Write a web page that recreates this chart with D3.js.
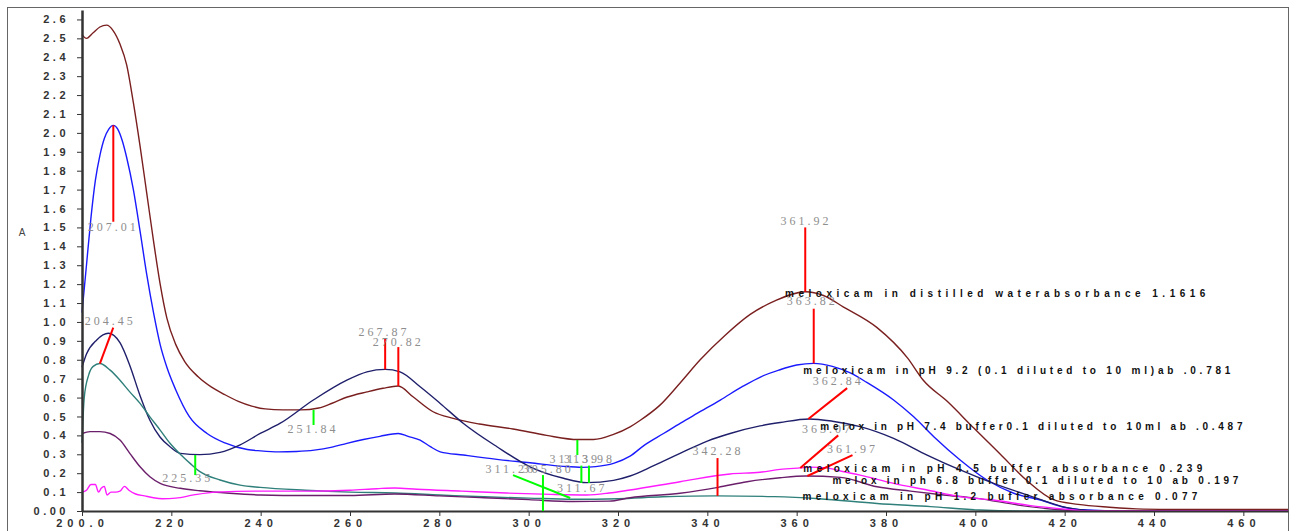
<!DOCTYPE html>
<html>
<head>
<meta charset="utf-8">
<script src="https://cdn.jsdelivr.net/npm/d3@7"></script>
<style>
  body { margin: 0; background: #fff; }
  svg { display: block; }
  .tick text { font-family: "Liberation Sans", Arial, sans-serif; font-size: 11px; font-weight: bold; fill: #333; }
  .y-ax .tick text { letter-spacing: 3.5px; }
  .x-ax .tick text { letter-spacing: 5px; }
  .peak { font-family: "Liberation Serif", "Times New Roman", serif; font-size: 12px; fill: #8e8e8e; letter-spacing: 3px; }
  .note { font-family: "Liberation Sans", Arial, sans-serif; font-size: 10px; font-weight: bold; fill: #111; }
</style>
</head>
<body>
<div id="chart"></div>
<script>
// wavelength (nm) / absorbance pairs
const waterNm = [200, 201, 202.5, 204, 205.5, 207, 208.5, 210, 211.5, 213, 214.5, 216, 217.5, 219, 221, 223, 226, 229, 232, 235, 238, 241, 245, 249, 253, 256, 259.4, 263.8, 267.4, 270.8, 274.1, 278.6, 283.1, 289, 296.5, 304, 311, 314.5, 319, 322.7, 325, 329.4, 334, 338.4, 344, 349.6, 355, 362, 366, 370.4, 378, 384.8, 388.4, 393.7, 399.6, 405.6, 411.6, 417.5, 423, 430, 437.6, 445, 470];
const waterAbs = [2.52, 2.50, 2.53, 2.56, 2.57, 2.54, 2.47, 2.36, 2.16, 1.93, 1.68, 1.43, 1.2, 1.02, 0.88, 0.79, 0.71, 0.655, 0.615, 0.58, 0.555, 0.54, 0.535, 0.535, 0.545, 0.57, 0.603, 0.63, 0.649, 0.661, 0.604, 0.525, 0.49, 0.46, 0.434, 0.4, 0.378, 0.378, 0.405, 0.445, 0.48, 0.56, 0.68, 0.8, 0.93, 1.04, 1.11, 1.16, 1.14, 1.08, 0.97, 0.81, 0.69, 0.58, 0.44, 0.3, 0.16, 0.06, 0.035, 0.02, 0.01, 0.008, 0.008];

const ph92Nm = [200, 201, 202, 203, 204, 205, 206, 207, 208, 209, 210, 211.5, 213, 214.5, 216, 217.5, 219, 221, 224, 228, 232, 237, 240, 244, 248, 252, 256, 259.3, 263, 266.7, 270.8, 273, 275.7, 278, 280.2, 285.4, 292.9, 300.3, 307.8, 312, 315, 319, 322.7, 326, 330.2, 334, 337.7, 342.9, 348, 352, 356, 360, 363.8, 368, 372, 375.7, 381.7, 386.2, 390.7, 396.6, 402.6, 408.6, 414.6, 419.8, 425, 433, 470];
const ph92Abs = [1.05, 1.3, 1.55, 1.75, 1.88, 1.97, 2.02, 2.04, 2.02, 1.96, 1.87, 1.7, 1.48, 1.25, 1.05, 0.88, 0.76, 0.64, 0.5, 0.41, 0.36, 0.325, 0.318, 0.313, 0.315, 0.322, 0.338, 0.358, 0.378, 0.395, 0.41, 0.395, 0.375, 0.34, 0.313, 0.296, 0.273, 0.255, 0.236, 0.231, 0.235, 0.252, 0.29, 0.35, 0.41, 0.465, 0.516, 0.587, 0.66, 0.71, 0.745, 0.772, 0.781, 0.765, 0.73, 0.68, 0.587, 0.498, 0.393, 0.27, 0.164, 0.094, 0.058, 0.02, 0.005, 0, 0];

const ph74Nm = [200, 201, 203.3, 205.9, 208.5, 210.7, 213, 215.2, 217.5, 219.7, 222, 226.4, 230.9, 235.4, 239.9, 244.3, 251.8, 259.3, 263.8, 267.9, 271.2, 275.7, 280.2, 285.4, 292.9, 300.3, 307.8, 313, 319, 322.7, 328, 333.9, 340, 345.1, 351.8, 356.3, 362.8, 368, 374.2, 381.7, 389.2, 396.6, 404.1, 411.6, 420.5, 428, 470];
const ph74Abs = [0.76, 0.83, 0.905, 0.94, 0.89, 0.77, 0.61, 0.48, 0.39, 0.34, 0.305, 0.298, 0.31, 0.35, 0.41, 0.463, 0.587, 0.692, 0.736, 0.749, 0.736, 0.657, 0.569, 0.463, 0.34, 0.234, 0.173, 0.15, 0.162, 0.185, 0.24, 0.305, 0.37, 0.41, 0.45, 0.468, 0.487, 0.475, 0.446, 0.384, 0.296, 0.217, 0.146, 0.085, 0.018, 0, 0];

const ph12Nm = [200, 200.5, 201.5, 202.5, 204, 206.3, 208.5, 210.7, 213, 215.2, 217.5, 219.7, 222, 224.2, 226.4, 230.9, 235.4, 239.9, 250, 260, 270, 280, 290, 300, 310, 320, 330, 342, 355, 365, 378, 390, 401, 410, 470];
const ph12Abs = [0.36, 0.6, 0.72, 0.765, 0.78, 0.745, 0.692, 0.63, 0.569, 0.498, 0.428, 0.358, 0.3, 0.252, 0.208, 0.164, 0.137, 0.125, 0.11, 0.1, 0.095, 0.085, 0.075, 0.068, 0.062, 0.065, 0.075, 0.08, 0.076, 0.065, 0.04, 0.023, 0.005, 0, 0];

const ph68Nm = [200, 201.8, 204, 206.3, 208.5, 210.7, 213, 215.2, 217.5, 222, 226.4, 233, 240, 250, 260, 270, 280, 290, 300, 310, 318, 322.7, 333.9, 342.4, 348.9, 356.3, 362, 369.8, 378, 385.5, 392.9, 400.4, 410, 420, 425, 470];
const ph68Abs = [0.41, 0.42, 0.42, 0.41, 0.375, 0.305, 0.234, 0.181, 0.146, 0.12, 0.107, 0.094, 0.085, 0.082, 0.082, 0.09, 0.08, 0.07, 0.06, 0.05, 0.052, 0.07, 0.094, 0.125, 0.155, 0.176, 0.185, 0.178, 0.128, 0.105, 0.085, 0.067, 0.03, 0.005, 0, 0];

const ph45Nm = [200, 201, 202, 203, 203.7, 204.3, 205, 205.6, 206.5, 207.5, 208.5, 209.5, 210.5, 212, 214, 216, 218, 221, 225, 230, 240, 250, 260, 266, 270, 275, 285, 295, 305, 313, 318, 322.7, 333.9, 345.1, 351.8, 356.3, 360.8, 363.1, 366.8, 370, 374.2, 381.7, 389.2, 396.6, 404, 412, 420, 425, 470];
const ph45Abs = [0.1, 0.11, 0.14, 0.14, 0.1, 0.12, 0.13, 0.085, 0.1, 0.1, 0.105, 0.13, 0.11, 0.09, 0.08, 0.07, 0.065, 0.068, 0.085, 0.1, 0.105, 0.105, 0.11, 0.118, 0.122, 0.115, 0.105, 0.095, 0.088, 0.085, 0.095, 0.111, 0.155, 0.196, 0.205, 0.22, 0.228, 0.232, 0.228, 0.21, 0.19, 0.146, 0.111, 0.076, 0.058, 0.03, 0.01, 0, 0];

// peak / valley markers: label, line start (nm, A), line end (nm, A), label position (nm, A)
const markText = ["207.01", "204.45", "267.87", "270.82", "361.92", "363.82", "362.84", "363.07", "361.97", "342.28",
                  "251.84", "225.35", "311.39", "313.98", "", "", "305.80", "311.26", "311.67"];
const markNm0  = [207.01, 204.0, 267.87, 270.82, 361.92, 363.82, 362.6, 360.8, 362.4, 342.28, 251.84, 225.35, 310.9, 311.8, 313.5, 296.5, 303.2, null, null];
const markA0   = [2.04, 0.78, 0.749, 0.661, 1.16, 0.781, 0.487, 0.227, 0.185, 0.08, 0.535, 0.296, 0.376, 0.24, 0.24, 0.19, 0.19, null, null];
const markNm1  = [207.01, 207.0, 267.87, 270.82, 361.92, 363.82, 371.3, 369.3, 372.5, 342.28, 251.84, 225.35, 310.9, 311.8, 313.5, 309.3, 303.2, null, null];
const markA1   = [1.53, 0.97, 0.915, 0.867, 1.5, 1.07, 0.65, 0.4, 0.296, 0.28, 0.455, 0.19, 0.296, 0.148, 0.148, 0.069, 0.0, null, null];
const markLblNm = [207.01, 206.3, 267.6, 270.8, 362.1, 363.5, 369.3, 366.9, 372.5, 342.4, 251.7, 223.7, 310.3, 313.6, 0, 0, 304.4, 296.0, 312.0];
const markLblA  = [1.496, 1.0, 0.94, 0.888, 1.527, 1.105, 0.682, 0.428, 0.322, 0.312, 0.428, 0.169, 0.27, 0.27, 0, 0, 0.217, 0.217, 0.116];
const markColor = ["red", "red", "red", "red", "red", "red", "red", "red", "red", "red",
                   "lime", "lime", "lime", "lime", "lime", "lime", "lime", "lime", "lime"];

// sample notes: text, start nm, end nm, centre absorbance
const noteText = ["meloxicam in distilled waterabsorbance 1.1616",
                  "meloxicam in pH 9.2 (0.1 diluted to 10 ml)ab .0.781",
                  "melox in pH 7.4 buffer0.1 diluted to 10ml ab .0.487",
                  "meloxicam in pH 4.5 buffer absorbance 0.239",
                  "melox in ph 6.8 buffer 0.1 diluted to 10 ab 0.197",
                  "meloxicam in pH 1.2 buffer absorbance 0.077"];
const noteNm0 = [357.4, 361.5, 365.3, 361.5, 368.0, 361.3];
const noteNm1 = [451.5, 457.1, 459.8, 450.8, 458.9, 449.7];
const noteA   = [1.147, 0.74, 0.444, 0.222, 0.159, 0.074];

const xTicks = d3.range(200, 461, 20);
const yTicks = d3.range(0, 27).map(i => i / 10);

const width = 1297, height = 531;

const svg = d3.select("#chart").append("svg")
    .attr("width", width)
    .attr("height", height);

svg.append("rect")
    .attr("x", 7.5).attr("y", 7.5)
    .attr("width", 1281).attr("height", 540)
    .attr("fill", "none")
    .attr("stroke", "#666");

const x = d3.scaleLinear().domain([200, 470]).range([82, 1288]);
const y = d3.scaleLinear().domain([0, 2.65]).range([511, 10]);

const line = d3.line()
    .x(d => x(d[0]))
    .y(d => y(d[1]))
    .curve(d3.curveMonotoneX);

const series = [
  {nm: waterNm, abs: waterAbs, color: "#7a1f1f"},
  {nm: ph92Nm, abs: ph92Abs, color: "#1a1aff"},
  {nm: ph74Nm, abs: ph74Abs, color: "#1f1f6b"},
  {nm: ph12Nm, abs: ph12Abs, color: "#2f7f7a"},
  {nm: ph68Nm, abs: ph68Abs, color: "#6b1f6b"},
  {nm: ph45Nm, abs: ph45Abs, color: "#ff1aff"}
];

svg.append("g")
  .selectAll("path")
  .data(series)
  .join("path")
    .attr("d", s => line(s.nm.map((v, i) => [v, s.abs[i]])))
    .attr("fill", "none")
    .attr("stroke", s => s.color)
    .attr("stroke-width", 1.4);

// axes
const yAxis = svg.append("g")
    .attr("class", "y-ax")
    .attr("transform", "translate(82,0)")
    .call(d3.axisLeft(y).tickValues(yTicks).tickSize(5).tickSizeOuter(0).tickPadding(8)
        .tickFormat(d => d === 0 ? "0.00" : d3.format(".1f")(d)));
yAxis.select(".domain").attr("stroke", "#333").attr("stroke-width", 2.5);
yAxis.selectAll(".tick line").attr("stroke", "#333");

const xAxis = svg.append("g")
    .attr("class", "x-ax")
    .attr("transform", "translate(0,511)")
    .call(d3.axisBottom(x).tickValues(xTicks).tickSize(5).tickSizeOuter(0).tickPadding(3)
        .tickFormat(d => d === 200 ? "200.0" : d));
xAxis.select(".domain").attr("stroke", "#333").attr("stroke-width", 2);
xAxis.selectAll(".tick line").attr("stroke", "#333");

svg.append("text")
    .attr("x", 22).attr("y", 236)
    .attr("text-anchor", "middle")
    .attr("font-family", "Liberation Sans, Arial, sans-serif")
    .attr("font-size", 10)
    .attr("fill", "#444")
    .text("A");

// marker lines and labels
const marks = markText.map((t, i) => ({
  t, c: markColor[i],
  x0: markNm0[i], a0: markA0[i], x1: markNm1[i], a1: markA1[i],
  lx: markLblNm[i], la: markLblA[i]
}));

svg.append("g")
  .selectAll("line")
  .data(marks.filter(m => m.x0 !== null))
  .join("line")
    .attr("x1", m => x(m.x0)).attr("y1", m => y(m.a0))
    .attr("x2", m => x(m.x1)).attr("y2", m => y(m.a1))
    .attr("stroke", m => m.c)
    .attr("stroke-width", 2);

svg.append("g")
  .selectAll("text")
  .data(marks.filter(m => m.t !== ""))
  .join("text")
    .attr("class", "peak")
    .attr("x", m => x(m.lx))
    .attr("y", m => y(m.la))
    .attr("text-anchor", "middle")
    .attr("dominant-baseline", "middle")
    .text(m => m.t);

svg.append("g")
  .selectAll("text")
  .data(noteText)
  .join("text")
    .attr("class", "note")
    .attr("x", (d, i) => x(noteNm0[i]))
    .attr("y", (d, i) => y(noteA[i]))
    .attr("dominant-baseline", "middle")
    .attr("textLength", (d, i) => x(noteNm1[i]) - x(noteNm0[i]))
    .attr("lengthAdjust", "spacing")
    .text(d => d);
</script>
</body>
</html>
